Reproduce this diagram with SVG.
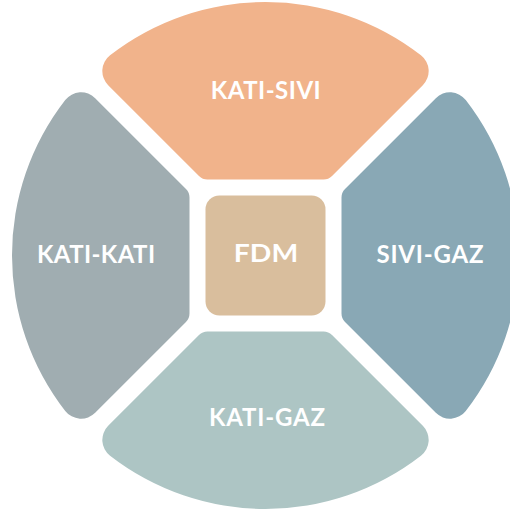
<svg xmlns="http://www.w3.org/2000/svg" width="510" height="514" viewBox="0 0 510 514">
  <defs>
    <!-- One rounded quarter sector (top position); the others are rotated copies about the centre (265.5, 255.5) -->
    <path id="sector" d="M323.53,179.5 L207.47,179.5 A12,12 0 0 1 198.99,175.99 L108.18,85.18 A20,20 0 0 1 110.06,55.24 A253.5,253.5 0 0 1 420.94,55.24 A20,20 0 0 1 422.82,85.18 L332.01,175.99 A12,12 0 0 1 323.53,179.5 Z"/>
  </defs>
  <style>
    .label { font-family: Lato, "Open Sans", "DejaVu Sans", sans-serif; font-weight: 700; font-size: 24px; fill: #ffffff; text-anchor: middle; }
  </style>
  <rect width="510" height="514" fill="#ffffff"/>

  <g id="kati-sivi">
    <use href="#sector" fill="#F1B38B"/>
    <text class="label" x="265.7" y="99" textLength="110" lengthAdjust="spacing">KATI-SIVI</text>
  </g>

  <g id="sivi-gaz">
    <use href="#sector" transform="rotate(90 265.5 255.5)" fill="#89A8B5"/>
    <text class="label" x="430" y="263" textLength="107" lengthAdjust="spacing">SIVI-GAZ</text>
  </g>

  <g id="kati-gaz">
    <use href="#sector" transform="rotate(180 265.5 255.5)" fill="#ADC5C4"/>
    <text class="label" x="267" y="426" textLength="116" lengthAdjust="spacing">KATI-GAZ</text>
  </g>

  <g id="kati-kati">
    <use href="#sector" transform="rotate(270 265.5 255.5)" fill="#A0ADB1"/>
    <text class="label" x="96" y="263" textLength="118" lengthAdjust="spacing">KATI-KATI</text>
  </g>

  <g id="fdm">
    <rect x="205.5" y="195.5" width="120" height="120" rx="14" fill="#D9BE9D"/>
    <!-- wide geometric letters: stretched horizontally, same cap height as the sector labels -->
    <text class="label" transform="translate(266 262.3) scale(1.18 1)" x="0" y="0">FDM</text>
  </g>
</svg>
